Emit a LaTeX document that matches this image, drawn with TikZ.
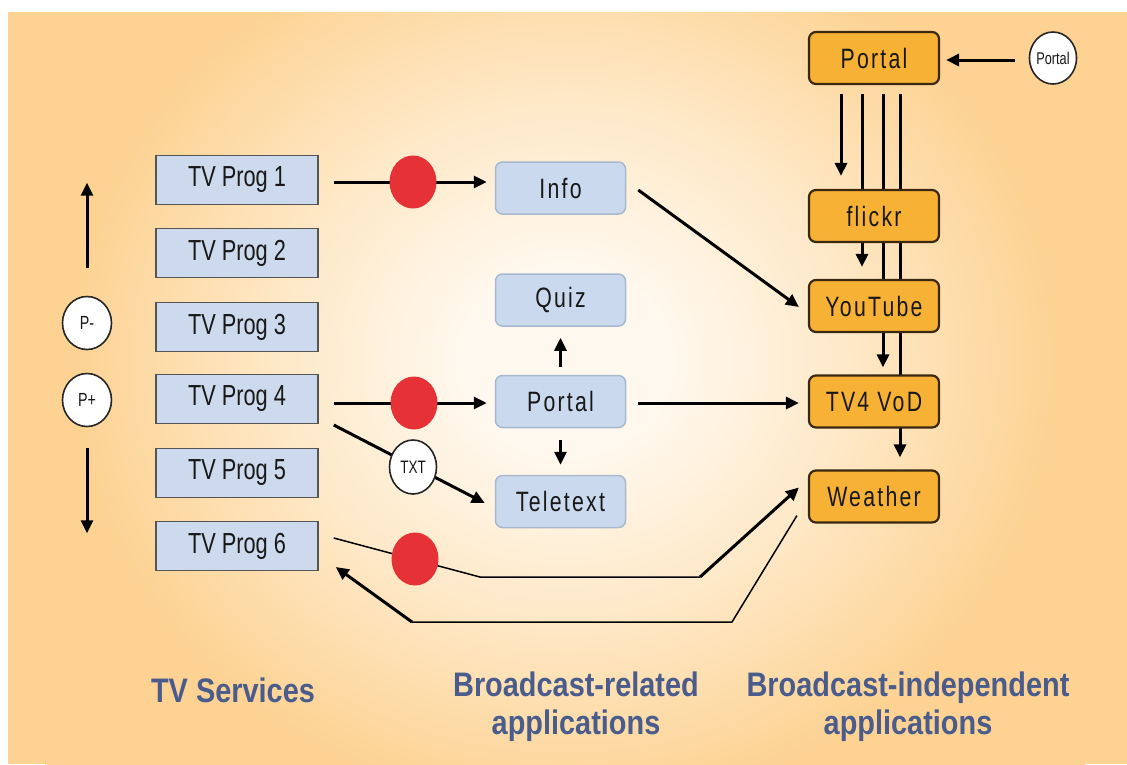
\documentclass[tikz,border=0pt]{standalone}
\usepackage{fontspec}
\setmainfont{Liberation Sans}[FakeStretch=0.75]
\newfontfamily\trackfont{Liberation Sans}[FakeStretch=0.76,LetterSpace=8]
\newfontfamily\capfont{Liberation Sans}[FakeStretch=0.85]
\usetikzlibrary{arrows.meta,shapes.geometric,calc}

\definecolor{glowout}{RGB}{253,210,146}
\definecolor{glowmid}{RGB}{254,232,198}
\definecolor{glowin}{RGB}{255,248,238}
\definecolor{tvfill}{RGB}{205,218,238}
\definecolor{tvline}{RGB}{85,85,85}
\definecolor{relfill}{RGB}{203,217,238}
\definecolor{relline}{RGB}{168,184,206}
\definecolor{indfill}{RGB}{247,177,52}
\definecolor{indline}{RGB}{58,40,16}
\definecolor{spotred}{RGB}{230,50,55}
\definecolor{inktext}{RGB}{24,24,24}
\definecolor{capblue}{RGB}{74,92,140}

\pgfdeclareradialshading{warmglow}{\pgfpoint{0bp}{0bp}}{%
  color(0bp)=(glowin); color(5bp)=(glowin); color(14bp)=(glowmid);
  color(24bp)=(glowout); color(50bp)=(glowout)}

\pgfdeclarelayer{bg}
\pgfdeclarelayer{wires}
\pgfsetlayers{bg,wires,main}

\tikzset{
  boxtext/.style={text=inktext, inner sep=0pt},
  tvbox/.style={boxtext, draw=tvline, line width=1.5pt, fill=tvfill,
    minimum width=162pt, minimum height=49pt,
    font=\fontsize{29}{32}\selectfont},
  relbox/.style={boxtext, draw=relline, line width=1.5pt, fill=relfill,
    rounded corners=7pt, minimum width=130pt, minimum height=52pt,
    font=\trackfont\fontsize{28}{31}\selectfont},
  indbox/.style={boxtext, draw=indline, line width=2.2pt, fill=indfill,
    rounded corners=7pt, minimum width=130pt, minimum height=52pt,
    font=\trackfont\fontsize{28}{31}\selectfont},
  redspot/.style={ellipse, fill=spotred, minimum width=47pt, minimum height=53pt, inner sep=0pt},
  knob/.style={ellipse, draw=black!85, line width=1.6pt, fill=white,
    minimum width=49pt, minimum height=53pt, inner sep=0pt, text=inktext,
    font=\fontsize{19}{21}\selectfont},
  arr/.style={line width=3pt, -{Triangle[length=13pt,width=12pt]}},
  thinline/.style={line width=1.5pt},
  caption/.style={text=capblue, inner sep=0pt, align=center,
    font=\capfont\bfseries\fontsize{34}{38}\selectfont},
}

\begin{document}
\begin{tikzpicture}[x=1pt,y=-1pt]
\useasboundingbox (0,0) rectangle (1127,764);

% warm backdrop with a soft central glow
\begin{pgfonlayer}{bg}
  \fill[glowout] (8,12) rectangle (1127,764);
  \begin{scope}
    \clip (8,12) rectangle (1127,764);
    \shade[shading=warmglow] (45,-110) rectangle (1085,830);
  \end{scope}
\end{pgfonlayer}

% TV services
\node[tvbox] (p1) at (237,180) {TV Prog 1};
\node[tvbox] (p2) at (237,253) {TV Prog 2};
\node[tvbox] (p3) at (237,327) {TV Prog 3};
\node[tvbox] (p4) at (237,399) {TV Prog 4};
\node[tvbox] (p5) at (237,473) {TV Prog 5};
\node[tvbox] (p6) at (237,546) {TV Prog 6};

% channel keys
\node[knob] (pminus) at (87,323) {P-};
\node[knob] (pplus) at (87,400) {P+};
\draw[arr] ($(pminus.north)+(0,-28)$) -- ++(0,-85);
\draw[arr] ($(pplus.south)+(0,21)$) -- ++(0,85);

% broadcast-related applications
\node[relbox] (info) at (560.5,188) {Info};
\node[relbox] (quiz) at (560.5,300) {Quiz};
\node[relbox] (bportal) at (560.5,401.5) {Portal};
\node[relbox] (tele) at (560.5,501.5) {Teletext};

% broadcast-independent applications
\node[indbox] (rportal) at (874,58) {Portal};
\node[indbox] (flickr) at (874,216) {flickr};
\node[indbox] (youtube) at (874,306) {YouTube};
\node[indbox] (tv4) at (874,401.5) {TV4 VoD};
\node[indbox] (weather) at (874,496.5) {Weather};
\node[knob, minimum width=47pt, minimum height=52pt, font=\fontsize{17}{19}\selectfont] (pkey) at (1053,58) {Portal};
\draw[arr] ($(pkey.west)+(-14,2)$) -- ($(rportal.east)+(6,2)$);

% navigation lines leaving the portal, passing behind the boxes
\begin{pgfonlayer}{wires}
  \draw[arr] ($(rportal.south)+(-33,9)$) -- ($(flickr.north)+(-33,-13)$);
  \draw[arr] ($(rportal.south)+(-12,9)$) -- ($(youtube.north)+(-12,-12)$);
  \draw[arr] ($(rportal.south)+(9,9)$) -- ($(tv4.north)+(9,-7)$);
  \draw[arr] ($(rportal.south)+(26,9)$) -- ($(weather.north)+(26,-12)$);
\end{pgfonlayer}

% links from the TV services
\draw[arr] ($(p1.east)+(15,2)$) -- ($(info.west)+(-8,-6)$);
\node[redspot] (s1) at (413,182) {};
\draw[arr] ($(p4.east)+(15,4)$) -- ($(bportal.west)+(-8,1.5)$);
\node[redspot] (s2) at (414,403) {};
\draw[arr] ($(p4.east)+(15,26)$) -- ($(tele.west)+(-10,1.5)$);
\node[knob, minimum width=47pt, minimum height=54pt, font=\fontsize{18}{20}\selectfont] (txt) at (413,467) {TXT};

\draw[arr] ($(bportal.north)+(0,-8)$) -- ($(quiz.south)+(0,11)$);
\draw[arr] ($(bportal.south)+(0,12)$) -- ($(tele.north)+(0,-10)$);
\draw[arr] ($(bportal.east)+(12,1.5)$) -- ($(tv4.west)+(-9,1.5)$);
\draw[arr] ($(info.east)+(12,2)$) -- ($(youtube.west)+(-9,1)$);

% weather launched from TV Prog 6, and the way back
\coordinate (w1) at (480,577);
\coordinate (w2) at (700,577);
\draw[thinline] ($(p6.east)+(15,-8)$) -- (w1) -- (w2);
\draw[arr] (w2) -- ($(weather.west)+(-9,-9)$);
\node[redspot] (s3) at (415,559) {};

\coordinate (r1) at (732,622);
\coordinate (r2) at (412,622);
\draw[thinline] ($(weather.south west)+(-11,-8)$) -- (r1) -- (r2);
\draw[arr] (r2) -- ($(p6.east)+(17,21)$);

% column captions
\node[caption] (c1) at (233,690) {TV Services};
\node[caption] (c2) at (576,707) {Broadcast-related\\applications};
\node[caption] (c3) at (908,707) {Broadcast-independent\\applications};
\end{tikzpicture}
\end{document}
